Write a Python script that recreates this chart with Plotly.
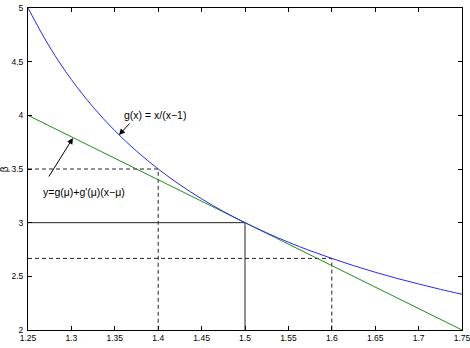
import plotly.graph_objects as go

# curve g(x) = x/(x-1)
curve_x = [1.25, 1.275, 1.30, 1.325, 1.35, 1.375, 1.40, 1.425, 1.45, 1.475, 1.50,
           1.525, 1.55, 1.575, 1.60, 1.625, 1.65, 1.675, 1.70, 1.725, 1.75]
curve_y = [5.0, 4.636, 4.333, 4.077, 3.857, 3.667, 3.5, 3.353, 3.222, 3.105, 3.0,
           2.905, 2.818, 2.739, 2.667, 2.6, 2.538, 2.481, 2.429, 2.379, 2.333]

# tangent line at mu = 1.5
tangent_x = [1.25, 1.75]
tangent_y = [4.0, 2.0]

# reference points (x, g(x)) with guide lines
ref_x = [1.4, 1.5, 1.6]
ref_y = [3.5, 3.0, 2.667]
ref_dash = ["4px,3px", "solid", "4px,3px"]

x_ticks = [1.25, 1.3, 1.35, 1.4, 1.45, 1.5, 1.55, 1.6, 1.65, 1.7, 1.75]
y_ticks = [2, 2.5, 3, 3.5, 4, 4.5, 5]

x_min, x_max = 1.25, 1.75
y_min, y_max = 2, 5

fig = go.Figure()

for px, py, d in zip(ref_x, ref_y, ref_dash):
    fig.add_trace(go.Scatter(x=[x_min, px, px], y=[py, py, y_min], mode="lines",
                             line=dict(color="#222222", width=1, dash=d),
                             hoverinfo="skip", showlegend=False))

fig.add_trace(go.Scatter(x=tangent_x, y=tangent_y, mode="lines",
                         line=dict(color="rgb(30,140,30)", width=1), showlegend=False))
fig.add_trace(go.Scatter(x=curve_x, y=curve_y, mode="lines", line_shape="spline",
                         line=dict(color="rgb(40,40,235)", width=1), showlegend=False))

font = "Liberation Sans, Arial, Helvetica, sans-serif"

fig.add_annotation(x=1.3548, y=3.817, ax=1.3687, ay=3.938, xref="x", yref="y",
                   axref="x", ayref="y", text="", showarrow=True,
                   arrowhead=2, arrowsize=1.2, arrowwidth=1, arrowcolor="black")
fig.add_annotation(x=1.3963, y=4.003, xref="x", yref="y", text="g(x) = x/(x\u22121)",
                   showarrow=False, font=dict(family=font, size=10.5, color="black"))

fig.add_annotation(x=1.3018, y=3.789, ax=1.273, ay=3.416, xref="x", yref="y",
                   axref="x", ayref="y", text="", showarrow=True,
                   arrowhead=2, arrowsize=1.2, arrowwidth=1, arrowcolor="black")
fig.add_annotation(x=1.3145, y=3.286, xref="x", yref="y",
                   text="y=g(\u03bc)+g'(\u03bc)(x\u2212\u03bc)",
                   showarrow=False, font=dict(family=font, size=10.5, color="black"))

# axis titles
fig.add_annotation(x=0.5, y=-0.075, xref="paper", yref="paper", text="\u03bc",
                   showarrow=False, xanchor="center", yanchor="top",
                   font=dict(family=font, size=10, color="black"))
fig.add_annotation(x=-0.055, y=0.5, xref="paper", yref="paper", text="\u03b2",
                   showarrow=False, textangle=-90, xanchor="center", yanchor="middle",
                   font=dict(family=font, size=10, color="black"))

axis_common = dict(showgrid=False, zeroline=False, showline=True, linecolor="black",
                   linewidth=1, mirror="ticks", ticks="inside", ticklen=4,
                   tickcolor="black", tickwidth=1, automargin=False,
                   ticklabeloverflow="allow",
                   tickfont=dict(family=font, size=8.5, color="black"))

fig.update_layout(
    width=470, height=348,
    margin=dict(l=28, r=8, t=8, b=18, autoexpand=False),
    paper_bgcolor="white", plot_bgcolor="white",
    xaxis=dict(range=[x_min, x_max], tickvals=x_ticks,
               ticktext=[f"{v:g}" for v in x_ticks], **axis_common),
    yaxis=dict(range=[y_min, y_max], tickvals=y_ticks,
               ticktext=[f"{v:g}" for v in y_ticks], **axis_common),
)
fig.update_xaxes(ticklabelstandoff=0)
fig.update_yaxes(ticklabelstandoff=2)

fig.write_html("out.html")
